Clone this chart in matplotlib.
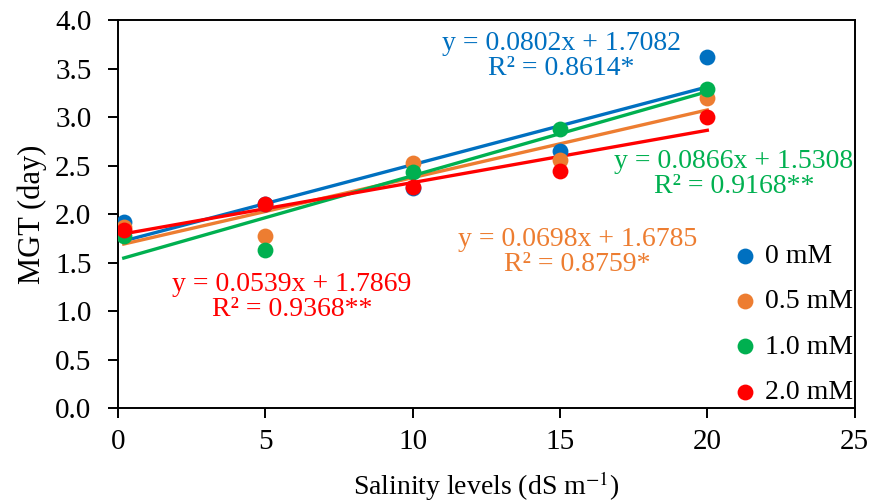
import numpy as np
import matplotlib
matplotlib.use("Agg")
import matplotlib.pyplot as plt

plt.rcParams['font.family'] = ['Liberation Serif', 'DejaVu Serif']
plt.rcParams['mathtext.fontset'] = 'stix'

# salinity levels (dS m-1)
salinity = [0.2, 5, 10, 15, 20]

labels = ["0 mM", "0.5 mM", "1.0 mM", "2.0 mM"]
colors = ["#0070C0", "#ED7D31", "#00B050", "#FF0000"]

mgt_0 = [1.92, 2.11, 2.27, 2.65, 3.62]
mgt_05 = [1.87, 1.78, 2.53, 2.56, 3.20]
mgt_10 = [1.78, 1.63, 2.44, 2.88, 3.29]
mgt_20 = [1.84, 2.11, 2.28, 2.45, 3.00]

# trendline coefficients shown on the chart
slopes = [0.0802, 0.0698, 0.0866, 0.0539]
intercepts = [1.7082, 1.6785, 1.5308, 1.7869]
r2_text = ["R² = 0.8614*", "R² = 0.8759*", "R² = 0.9168**", "R² = 0.9368**"]
eq_pos = [(15.05, 3.63), (15.6, 1.61), (20.9, 2.41), (5.9, 1.15)]

series = [mgt_0, mgt_05, mgt_10, mgt_20]

fig = plt.figure(figsize=(8.73, 5.04), dpi=100)
ax = fig.add_axes([0.135, 0.190, 0.844, 0.770])

x = np.array(salinity)
for vals, c, lab in zip(series, colors, labels):
    ax.scatter(x, vals, s=130, color=c, label=lab, zorder=3, linewidths=0)

for m, b, c in zip(slopes, intercepts, colors):
    xs = np.array([x.min(), x.max()])
    ax.plot(xs, m * xs + b, color=c, lw=2.4, zorder=2)

for m, b, r2, (tx, ty), c in zip(slopes, intercepts, r2_text, eq_pos, colors):
    ax.text(tx, ty, f"y = {m:.4f}x + {b:.4f}\n{r2}", color=c, fontsize=20,
            ha="center", va="center", linespacing=1.0, zorder=4)

ax.set_xlim(0, 25)
ax.set_ylim(0, 4.0)
ax.set_xticks(np.arange(0, 26, 5))
ax.set_yticks(np.arange(0, 4.01, 0.5))
ax.set_yticklabels([f"{v:.1f}" for v in np.arange(0, 4.01, 0.5)])
ax.tick_params(axis="both", labelsize=21, direction="out", length=7, width=1.4)
ax.tick_params(axis="y", pad=12)
ax.tick_params(axis="x", pad=8)
for sp in ax.spines.values():
    sp.set_linewidth(1.4)

ax.set_xlabel("Salinity levels (dS m$^{-1}$)", fontsize=20, labelpad=10)
ax.set_ylabel("MGT (day)", fontsize=22, labelpad=6)

ax.legend(loc="lower right", bbox_to_anchor=(1.02, -0.035), frameon=False,
          fontsize=20, handlelength=1.0, handletextpad=0.2, labelspacing=0.72,
          borderaxespad=0.2, markerscale=1.0, scatterpoints=1)

fig.savefig("out.png", dpi=100)
